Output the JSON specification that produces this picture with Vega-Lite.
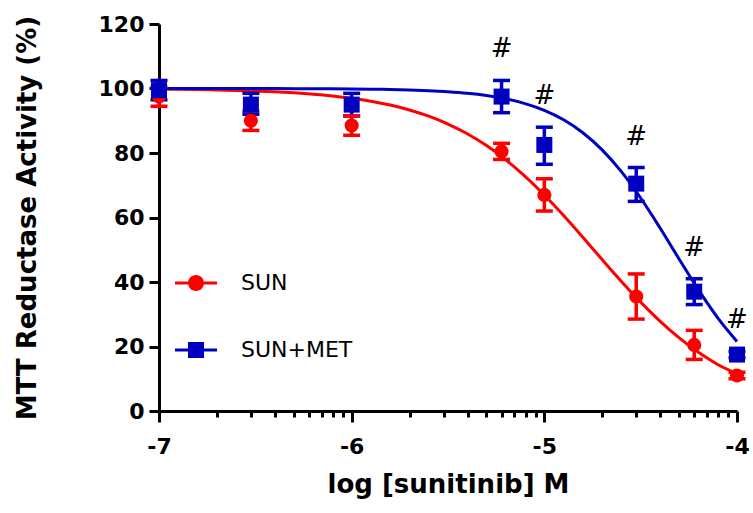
{
  "$schema": "https://vega.github.io/schema/vega-lite/v6.json",
  "width": 578,
  "height": 387,
  "autosize": "none",
  "padding": {"left": 159, "top": 24, "right": 16, "bottom": 102},
  "background": "white",
  "config": {
    "view": {"stroke": null},
    "font": "DejaVu Sans",
    "axis": {"domainColor": "black", "domainWidth": 3, "tickColor": "black", "tickWidth": 3, "labelFont": "DejaVu Sans", "labelFontWeight": "bold", "labelFontSize": 22, "labelColor": "black", "titleFont": "DejaVu Sans", "titleFontWeight": "bold", "titleFontSize": 26, "titleColor": "black", "grid": false},
    "axisY": {"tickCount": 6, "tickSize": 10, "labelPadding": 5, "titlePadding": 58},
    "axisX": {"labelPadding": 14, "titlePadding": 14}
  },
  "datasets": {
    "main": [
      {"series": "SUN", "x": -7, "mean": 97.5, "lo": 94.5, "hi": 100.5, "sig": ""},
      {"series": "SUN", "x": -6.523, "mean": 90, "lo": 87, "hi": 93, "sig": ""},
      {"series": "SUN", "x": -6, "mean": 88.5, "lo": 85.5, "hi": 91.5, "sig": ""},
      {"series": "SUN", "x": -5.222, "mean": 80.5, "lo": 78, "hi": 83, "sig": ""},
      {"series": "SUN", "x": -5, "mean": 67, "lo": 62, "hi": 72, "sig": ""},
      {"series": "SUN", "x": -4.523, "mean": 35.5, "lo": 28.5, "hi": 42.5, "sig": ""},
      {"series": "SUN", "x": -4.222, "mean": 20.5, "lo": 16, "hi": 25, "sig": ""},
      {"series": "SUN", "x": -4, "mean": 11, "lo": 10, "hi": 12, "sig": ""},
      {"series": "SUN+MET", "x": -7, "mean": 99.5, "lo": 96.5, "hi": 102.5, "sig": ""},
      {"series": "SUN+MET", "x": -6.523, "mean": 95, "lo": 92, "hi": 98.5, "sig": ""},
      {"series": "SUN+MET", "x": -6, "mean": 95, "lo": 91.5, "hi": 98.5, "sig": ""},
      {"series": "SUN+MET", "x": -5.222, "mean": 97.5, "lo": 92.5, "hi": 102.5, "sig": "#"},
      {"series": "SUN+MET", "x": -5, "mean": 82.5, "lo": 76.5, "hi": 88, "sig": "#"},
      {"series": "SUN+MET", "x": -4.523, "mean": 70.5, "lo": 65, "hi": 75.5, "sig": "#"},
      {"series": "SUN+MET", "x": -4.222, "mean": 37, "lo": 33, "hi": 41, "sig": "#"},
      {"series": "SUN+MET", "x": -4, "mean": 17.5, "lo": 16.5, "hi": 18.5, "sig": "#"}
    ],
    "curve": [
      {"series": "SUN", "x": -7.0, "mean": 99.80},
      {"series": "SUN", "x": -6.9, "mean": 99.74},
      {"series": "SUN", "x": -6.8, "mean": 99.66},
      {"series": "SUN", "x": -6.7, "mean": 99.55},
      {"series": "SUN", "x": -6.6, "mean": 99.41},
      {"series": "SUN", "x": -6.5, "mean": 99.22},
      {"series": "SUN", "x": -6.4, "mean": 98.98},
      {"series": "SUN", "x": -6.3, "mean": 98.66},
      {"series": "SUN", "x": -6.2, "mean": 98.24},
      {"series": "SUN", "x": -6.1, "mean": 97.69},
      {"series": "SUN", "x": -6.0, "mean": 96.98},
      {"series": "SUN", "x": -5.9, "mean": 96.06},
      {"series": "SUN", "x": -5.8, "mean": 94.87},
      {"series": "SUN", "x": -5.7, "mean": 93.35},
      {"series": "SUN", "x": -5.6, "mean": 91.41},
      {"series": "SUN", "x": -5.5, "mean": 88.98},
      {"series": "SUN", "x": -5.4, "mean": 85.96},
      {"series": "SUN", "x": -5.3, "mean": 82.29},
      {"series": "SUN", "x": -5.2, "mean": 77.89},
      {"series": "SUN", "x": -5.1, "mean": 72.78},
      {"series": "SUN", "x": -5.0, "mean": 66.97},
      {"series": "SUN", "x": -4.9, "mean": 60.60},
      {"series": "SUN", "x": -4.8, "mean": 53.85},
      {"series": "SUN", "x": -4.7, "mean": 46.95},
      {"series": "SUN", "x": -4.6, "mean": 40.18},
      {"series": "SUN", "x": -4.5, "mean": 33.75},
      {"series": "SUN", "x": -4.4, "mean": 27.87},
      {"series": "SUN", "x": -4.3, "mean": 22.67},
      {"series": "SUN", "x": -4.2, "mean": 18.19},
      {"series": "SUN", "x": -4.1, "mean": 14.43},
      {"series": "SUN", "x": -4.0, "mean": 11.6},
      {"series": "SUN+MET", "x": -7.0, "mean": 100.0},
      {"series": "SUN+MET", "x": -6.8, "mean": 99.99},
      {"series": "SUN+MET", "x": -6.6, "mean": 99.98},
      {"series": "SUN+MET", "x": -6.4, "mean": 99.97},
      {"series": "SUN+MET", "x": -6.2, "mean": 99.93},
      {"series": "SUN+MET", "x": -6.0, "mean": 99.86},
      {"series": "SUN+MET", "x": -5.9, "mean": 99.79},
      {"series": "SUN+MET", "x": -5.8, "mean": 99.68},
      {"series": "SUN+MET", "x": -5.7, "mean": 99.53},
      {"series": "SUN+MET", "x": -5.6, "mean": 99.31},
      {"series": "SUN+MET", "x": -5.5, "mean": 98.98},
      {"series": "SUN+MET", "x": -5.4, "mean": 98.51},
      {"series": "SUN+MET", "x": -5.3, "mean": 97.81},
      {"series": "SUN+MET", "x": -5.2, "mean": 96.79},
      {"series": "SUN+MET", "x": -5.1, "mean": 95.32},
      {"series": "SUN+MET", "x": -5.0, "mean": 93.23},
      {"series": "SUN+MET", "x": -4.9, "mean": 90.30},
      {"series": "SUN+MET", "x": -4.8, "mean": 86.29},
      {"series": "SUN+MET", "x": -4.7, "mean": 80.97},
      {"series": "SUN+MET", "x": -4.6, "mean": 74.21},
      {"series": "SUN+MET", "x": -4.5, "mean": 66.05},
      {"series": "SUN+MET", "x": -4.4, "mean": 56.81},
      {"series": "SUN+MET", "x": -4.3, "mean": 47.07},
      {"series": "SUN+MET", "x": -4.2, "mean": 37.55},
      {"series": "SUN+MET", "x": -4.1, "mean": 28.90},
      {"series": "SUN+MET", "x": -4.0, "mean": 21.56}
    ]
  },
  "data": {"name": "main"},
  "encoding": {
    "x": {
      "field": "x", "type": "quantitative",
      "title": "log [sunitinib] M",
      "scale": {"domain": [-7, -4], "nice": false, "zero": false},
      "axis": {
        "values": [-7, -6.69897, -6.52288, -6.39794, -6.30103, -6.22185, -6.1549, -6.09691, -6.04576, -6, -5.69897, -5.52288, -5.39794, -5.30103, -5.22185, -5.1549, -5.09691, -5.04576, -5, -4.69897, -4.52288, -4.39794, -4.30103, -4.22185, -4.1549, -4.09691, -4.04576, -4],
        "labelExpr": "abs(datum.value - round(datum.value)) < 0.001 ? '-' + format(abs(datum.value), 'd') : ''",
        "labelOverlap": false,
        "labelFlush": false,
        "tickSize": {"condition": {"test": "abs(datum.value - round(datum.value)) < 0.001", "value": 11}, "value": 6}
      }
    },
    "y": {
      "field": "mean", "type": "quantitative",
      "title": "MTT Reductase Activity (%)",
      "scale": {"domain": [0, 120], "nice": false, "zero": true}
    }
  },
  "layer": [
    {
      "transform": [{"filter": "false"}],
      "mark": {"type": "point", "filled": true, "opacity": 1},
      "encoding": {
        "shape": {"field": "series", "type": "nominal",
          "scale": {"domain": ["SUN", "SUN+MET"], "range": ["M-2.1,-0.15H2.1V0.15H-2.1Z M0.8,0A0.8,0.8 0 1,1 -0.8,0A0.8,0.8 0 1,1 0.8,0Z", "M-2.1,-0.15H2.1V0.15H-2.1Z M-0.8,-0.8H0.8V0.8H-0.8Z"]},
          "legend": {"title": null, "orient": "none", "legendX": 26, "legendY": 248, "symbolSize": 400, "labelFont": "DejaVu Sans", "labelFontSize": 22, "labelColor": "black", "labelOffset": 34, "rowPadding": 45, "padding": 0, "symbolStrokeWidth": 0, "symbolOpacity": 1}
        },
        "color": {"field": "series", "type": "nominal", "scale": {"domain": ["SUN", "SUN+MET"], "range": ["#ff0000", "#0000c0"]},
          "legend": {"title": null, "orient": "none", "legendX": 26, "legendY": 248, "symbolSize": 400, "labelFont": "DejaVu Sans", "labelFontSize": 22, "labelColor": "black", "labelOffset": 34, "rowPadding": 45, "padding": 0, "symbolStrokeWidth": 0, "symbolOpacity": 1}
        }
      }
    },
    {
      "data": {"name": "curve"},
      "mark": {"type": "line", "strokeWidth": 3, "interpolate": "monotone"},
      "encoding": {
        "color": {"field": "series", "type": "nominal", "scale": {"domain": ["SUN", "SUN+MET"], "range": ["#ff0000", "#0000c0"]}, "legend": null}
      }
    },
    {
      "mark": {"type": "rule", "strokeWidth": 3.5},
      "encoding": {
        "y": {"field": "lo", "type": "quantitative", "title": "MTT Reductase Activity (%)"},
        "y2": {"field": "hi"},
        "color": {"field": "series", "type": "nominal", "scale": {"domain": ["SUN", "SUN+MET"], "range": ["#ff0000", "#0000c0"]}, "legend": null}
      }
    },
    {
      "mark": {"type": "tick", "orient": "horizontal", "size": 17, "thickness": 3.5, "opacity": 1},
      "encoding": {
        "y": {"field": "lo", "type": "quantitative", "title": "MTT Reductase Activity (%)"},
        "color": {"field": "series", "type": "nominal", "scale": {"domain": ["SUN", "SUN+MET"], "range": ["#ff0000", "#0000c0"]}, "legend": null}
      }
    },
    {
      "mark": {"type": "tick", "orient": "horizontal", "size": 17, "thickness": 3.5, "opacity": 1},
      "encoding": {
        "y": {"field": "hi", "type": "quantitative", "title": "MTT Reductase Activity (%)"},
        "color": {"field": "series", "type": "nominal", "scale": {"domain": ["SUN", "SUN+MET"], "range": ["#ff0000", "#0000c0"]}, "legend": null}
      }
    },
    {
      "transform": [{"filter": "datum.series === 'SUN'"}],
      "mark": {"type": "point", "shape": "circle", "filled": true, "size": 200, "opacity": 1},
      "encoding": {
        "color": {"field": "series", "type": "nominal", "scale": {"domain": ["SUN", "SUN+MET"], "range": ["#ff0000", "#0000c0"]}, "legend": null}
      }
    },
    {
      "transform": [{"filter": "datum.series === 'SUN+MET'"}],
      "mark": {"type": "point", "shape": "square", "filled": true, "size": 256, "opacity": 1},
      "encoding": {
        "color": {"field": "series", "type": "nominal", "scale": {"domain": ["SUN", "SUN+MET"], "range": ["#ff0000", "#0000c0"]}, "legend": null}
      }
    },
    {
      "transform": [{"filter": "datum.sig !== ''"}],
      "mark": {"type": "text", "font": "DejaVu Sans", "fontSize": 26, "dy": -31, "baseline": "middle", "align": "center", "color": "black"},
      "encoding": {
        "y": {"field": "hi", "type": "quantitative", "title": "MTT Reductase Activity (%)"},
        "text": {"field": "sig"}
      }
    }
  ]
}
